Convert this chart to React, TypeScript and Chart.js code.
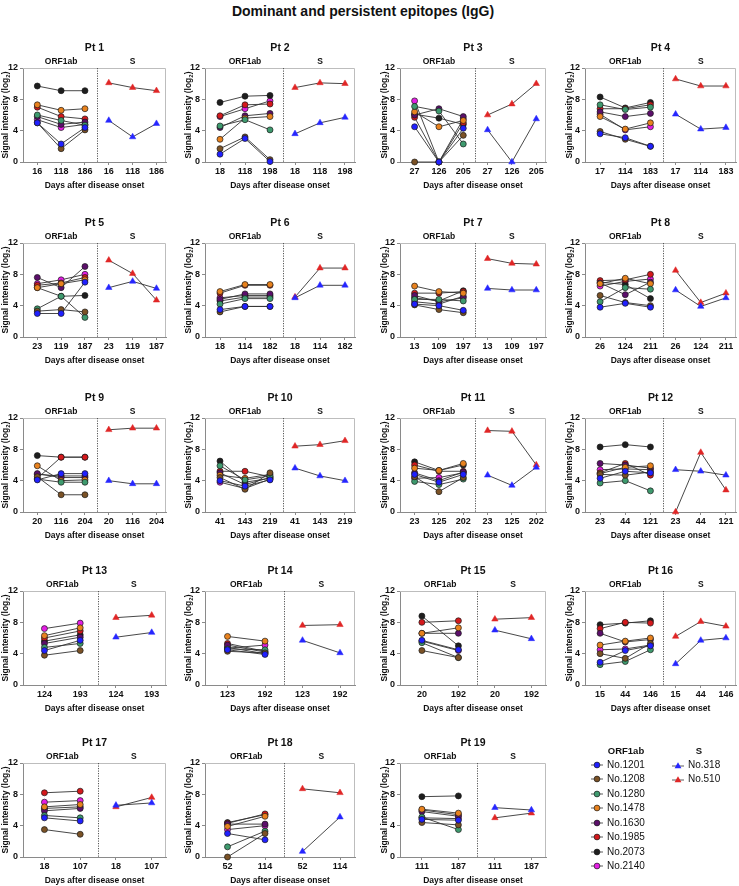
import React, { useEffect, useRef } from 'react';
import { Chart, registerables } from 'chart.js';
Chart.register(...registerables);

const FONT = '"Liberation Sans", Arial, Helvetica, sans-serif';

// Epitopes (order: 1201 blue, 1208 brown, 1280 green, 1478 orange, 1630 purple, 1985 red, 2073 black, 2140 magenta)
const orfNames = ['No.1201', 'No.1208', 'No.1280', 'No.1478', 'No.1630', 'No.1985', 'No.2073', 'No.2140'];
const sNames = ['No.318', 'No.510'];
const orfColors = ['#2020ff', '#7b5226', '#3e9a6e', '#e8821e', '#5c0f6b', '#d4191c', '#1e1e1e', '#e41ee4'];
const sColors = ['#2626ff', '#e02626'];

const titles = ['Pt 1', 'Pt 2', 'Pt 3', 'Pt 4', 'Pt 5', 'Pt 6', 'Pt 7', 'Pt 8', 'Pt 9', 'Pt 10',
  'Pt 11', 'Pt 12', 'Pt 13', 'Pt 14', 'Pt 15', 'Pt 16', 'Pt 17', 'Pt 18', 'Pt 19'];

const pt1Days = [16, 118, 186];
const pt1Orf = [[5.0, 2.3, 4.4], [5.0, 1.7, 4.1], [6.0, 5.3, 4.7], [7.3, 6.6, 6.8], [5.8, 4.8, 5.1], [7.0, 5.8, 5.5], [9.7, 9.1, 9.1], [5.4, 4.4, 4.8]];
const pt1S = [[5.3, 3.2, 4.9], [10.1, 9.5, 9.1]];

const pt2Days = [18, 118, 198];
const pt2Orf = [[1.0, 3.0, 0.05], [1.7, 3.2, 0.3], [4.6, 5.4, 4.1], [2.9, 5.6, 5.8], [4.4, 5.9, 6.2], [5.9, 7.3, 7.4], [7.6, 8.4, 8.5], [5.8, 6.8, 7.8]];
const pt2S = [[3.6, 5.0, 5.7], [9.5, 10.1, 10.0]];

const pt3Days = [27, 126, 205];
const pt3Orf = [[4.5, 0, 4.3], [0, 0, 3.4], [7.1, 6.5, 2.3], [6.4, 4.5, 5.3], [6.0, 6.8, 5.8], [5.7, 0, 5.0], [6.1, 5.6, 4.8], [7.8, 0, 5.5]];
const pt3S = [[4.1, 0, 5.5], [6.0, 7.4, 10.0]];

const pt4Days = [17, 114, 183];
const pt4Orf = [[3.6, 3.1, 2.0], [3.9, 2.9, 2.0], [7.3, 6.7, 7.0], [5.8, 4.2, 5.0], [6.4, 5.8, 6.2], [6.8, 6.8, 7.3], [8.3, 6.9, 7.6], [6.1, 4.1, 4.5]];
const pt4S = [[6.1, 4.2, 4.4], [10.6, 9.7, 9.7]];

const pt5Days = [23, 119, 187];
const pt5Orf = [[3.0, 3.0, 7.0], [3.3, 3.5, 3.2], [3.6, 5.2, 2.5], [6.3, 6.8, 7.3], [7.6, 6.3, 9.0], [6.6, 6.9, 7.6], [6.3, 5.2, 5.3], [6.8, 7.3, 8.0]];
const pt5S = [[6.3, 7.1, 6.2], [9.8, 8.1, 4.7]];

const pt6Days = [18, 114, 182];
const pt6Orf = [[3.5, 3.9, 3.9], [3.2, 3.9, 3.9], [4.2, 4.9, 4.9], [5.8, 6.7, 6.7], [4.8, 5.5, 5.5], [5.6, 6.6, 6.6], [4.6, 5.1, 5.1], [5.0, 5.3, 5.3]];
const pt6S = [[5.0, 6.6, 6.6], [5.1, 8.8, 8.8]];

const pt7Days = [13, 109, 197];
const pt7Orf = [[4.2, 4.0, 3.4], [4.1, 3.5, 3.1], [4.8, 4.8, 4.6], [6.5, 5.8, 5.6], [5.3, 4.5, 5.0], [5.6, 5.6, 5.8], [5.0, 4.6, 5.9], [4.5, 4.2, 5.2]];
const pt7S = [[6.2, 6.0, 6.0], [10.0, 9.4, 9.3]];

const pt8Days = [26, 124, 211];
const pt8Orf = [[3.8, 4.3, 3.8], [5.3, 4.4, 4.0], [4.5, 6.3, 6.1], [6.8, 7.5, 6.8], [6.9, 5.4, 7.0], [7.2, 7.3, 8.0], [7.0, 6.7, 4.9], [6.5, 7.1, 7.4]];
const pt8S = [[6.0, 3.9, 5.0], [8.5, 4.4, 5.6]];

const pt9Days = [20, 116, 204];
const pt9Orf = [[4.1, 4.9, 4.9], [4.5, 2.2, 2.2], [4.2, 3.8, 3.8], [5.9, 4.0, 4.1], [4.9, 4.4, 4.4], [4.3, 7.0, 7.0], [7.2, 7.0, 7.0], [4.8, 4.6, 4.6]];
const pt9S = [[4.0, 3.6, 3.6], [10.5, 10.7, 10.7]];

const pt10Days = [41, 143, 219];
const pt10Orf = [[4.0, 3.3, 4.1], [4.4, 2.9, 5.0], [5.9, 4.1, 4.6], [4.7, 4.3, 4.8], [5.0, 3.5, 4.4], [5.2, 5.2, 4.5], [6.5, 3.8, 4.3], [3.8, 3.0, 4.2]];
const pt10S = [[5.6, 4.6, 4.0], [8.4, 8.6, 9.1]];

const pt11Days = [23, 125, 202];
const pt11Orf = [[4.8, 3.8, 4.8], [4.5, 2.6, 4.4], [3.9, 3.5, 4.2], [5.6, 5.3, 6.2], [5.0, 4.0, 5.1], [6.0, 5.2, 5.2], [6.4, 5.3, 6.0], [4.3, 4.4, 5.0]];
const pt11S = [[4.7, 3.4, 5.7], [10.4, 10.3, 6.0]];

const pt12Days = [23, 44, 121];
const pt12Orf = [[4.3, 5.2, 5.0], [4.8, 4.7, 5.1], [3.7, 4.0, 2.7], [4.9, 5.7, 5.9], [6.2, 6.0, 5.6], [5.0, 6.2, 4.7], [8.3, 8.6, 8.3], [5.4, 5.5, 5.4]];
const pt12S = [[5.4, 5.2, 4.7], [0, 7.6, 2.8]];

const pt13Days = [124, 193];
const pt13Orf = [[4.4, 5.7], [3.8, 4.4], [4.8, 5.3], [6.3, 7.3], [5.3, 6.1], [6.0, 6.9], [5.6, 6.4], [7.2, 7.9]];
const pt13S = [[6.1, 6.7], [8.6, 8.9]];

const pt14Days = [123, 192];
const pt14Orf = [[4.5, 3.9], [4.3, 4.1], [4.6, 4.5], [6.2, 5.6], [5.1, 4.2], [5.3, 4.3], [4.8, 4.0], [4.7, 5.1]];
const pt14S = [[5.7, 4.1], [7.6, 7.7]];

const pt15Days = [20, 192];
const pt15Orf = [[5.7, 4.5], [4.4, 3.5], [5.4, 3.5], [6.6, 7.3], [6.6, 6.6], [8.0, 8.2], [8.8, 5.0], [5.6, 4.4]];
const pt15S = [[7.0, 5.9], [8.4, 8.6]];

const pt16Days = [15, 44, 146];
const pt16Orf = [[2.9, 4.4, 5.0], [4.0, 3.4, 5.3], [2.6, 3.0, 4.5], [5.1, 5.6, 6.0], [6.6, 5.5, 5.8], [7.2, 8.0, 7.9], [7.7, 7.9, 8.2], [4.5, 4.6, 5.1]];
const pt16S = [[2.7, 5.7, 6.0], [6.2, 8.1, 7.5]];

const pt17Days = [18, 107];
const pt17Orf = [[5.0, 4.6], [3.5, 2.9], [5.3, 5.0], [6.4, 6.7], [5.9, 6.2], [8.2, 8.4], [6.2, 6.4], [7.0, 7.2]];
const pt17S = [[6.6, 6.9], [6.4, 7.6]];

const pt18Days = [52, 114];
const pt18Orf = [[3.0, 2.2], [0, 3.0], [1.3, 3.3], [3.9, 5.2], [4.2, 4.2], [4.3, 5.5], [4.4, 5.4], [3.5, 4.0]];
const pt18S = [[0.7, 5.1], [8.7, 8.2]];

const pt19Days = [111, 187];
const pt19Orf = [[4.8, 4.7], [4.4, 4.1], [5.1, 3.5], [6.1, 5.6], [5.8, 5.2], [6.0, 5.4], [7.7, 7.8], [5.0, 4.9]];
const pt19S = [[6.3, 6.0], [5.0, 5.6]];

const allDays = [pt1Days, pt2Days, pt3Days, pt4Days, pt5Days, pt6Days, pt7Days, pt8Days, pt9Days, pt10Days,
  pt11Days, pt12Days, pt13Days, pt14Days, pt15Days, pt16Days, pt17Days, pt18Days, pt19Days];
const allOrf = [pt1Orf, pt2Orf, pt3Orf, pt4Orf, pt5Orf, pt6Orf, pt7Orf, pt8Orf, pt9Orf, pt10Orf,
  pt11Orf, pt12Orf, pt13Orf, pt14Orf, pt15Orf, pt16Orf, pt17Orf, pt18Orf, pt19Orf];
const allS = [pt1S, pt2S, pt3S, pt4S, pt5S, pt6S, pt7S, pt8S, pt9S, pt10S,
  pt11S, pt12S, pt13S, pt14S, pt15S, pt16S, pt17S, pt18S, pt19S];

const yTicks = [0, 4, 8, 12];

// layout
const colLeft = [23, 205, 400, 585];
const colWidth = [143, 150, 146, 151];
const rowTop = [68, 243, 418, 591, 763];
const plotH = 93.5;
const yTitleOff = [17, 16, 15, 15];
const padL = 34, padR = 12, padT = 30, padB = 32;
const yAxisW = 20, xAxisH = 16;

function Panel({ idx }: { idx: number }) {
  const ref = useRef<HTMLCanvasElement>(null);
  const col = idx % 4;
  const row = Math.floor(idx / 4);
  const W = Math.round(colWidth[col] + padL + padR);
  const H = Math.round(plotH + padT + padB);
  useEffect(() => {
    const days = allDays[idx];
    const n = days.length;
    const datasets: any[] = [];
    allOrf[idx].forEach((vals, e) => {
      datasets.push({
        label: orfNames[e],
        data: vals.map((v, i) => ({ x: i, y: v })),
        borderColor: '#333',
        borderWidth: 0.9,
        pointBackgroundColor: orfColors[e],
        pointBorderColor: '#1a1a1a',
        pointBorderWidth: 0.7,
        pointRadius: 3,
        pointStyle: 'circle',
        clip: false,
      });
    });
    allS[idx].forEach((vals, e) => {
      datasets.push({
        label: sNames[e],
        data: vals.map((v, i) => ({ x: n + i, y: v })),
        borderColor: '#333',
        borderWidth: 0.9,
        pointBackgroundColor: sColors[e],
        pointBorderColor: sColors[e],
        pointBorderWidth: 0.5,
        pointRadius: 3.7,
        pointStyle: 'triangle',
        clip: false,
      });
    });
    const decor = {
      id: 'decor',
      beforeDatasetsDraw(chart: any) {
        const { ctx, chartArea: a, scales } = chart;
        ctx.save();
        ctx.strokeStyle = '#bdbdbd';
        ctx.lineWidth = 1;
        ctx.beginPath();
        ctx.moveTo(a.left, Math.round(a.top) + 0.5);
        ctx.lineTo(Math.round(a.right) - 0.5, Math.round(a.top) + 0.5);
        ctx.lineTo(Math.round(a.right) - 0.5, a.bottom);
        ctx.stroke();
        const sx = Math.round(scales.x.getPixelForValue(n - 0.5)) + 0.5;
        ctx.setLineDash([1.2, 1.3]);
        ctx.strokeStyle = '#555';
        ctx.beginPath();
        ctx.moveTo(sx, a.top);
        ctx.lineTo(sx, a.bottom);
        ctx.stroke();
        ctx.restore();
      },
      afterDraw(chart: any) {
        const { ctx, chartArea: a, scales } = chart;
        ctx.save();
        ctx.fillStyle = '#111';
        ctx.textAlign = 'center';
        ctx.textBaseline = 'middle';
        const cx = (a.left + a.right) / 2;
        ctx.font = `bold 10.5px ${FONT}`;
        ctx.fillText(titles[idx], cx, a.top - 20);
        ctx.font = `bold 8.5px ${FONT}`;
        ctx.fillText('ORF1ab', scales.x.getPixelForValue((n - 1) / 2), a.top - 6);
        ctx.fillText('S', scales.x.getPixelForValue(n + (n - 1) / 2), a.top - 6);
        ctx.fillText('Days after disease onset', cx, a.bottom + 24);
        // y title with subscript
        ctx.translate(a.left - yTitleOff[col], (a.top + a.bottom) / 2);
        ctx.rotate(-Math.PI / 2);
        const main = 'Signal intensity (log';
        const mainFont = `bold 8.5px ${FONT}`;
        const subFont = `bold 6px ${FONT}`;
        ctx.font = mainFont;
        const w1 = ctx.measureText(main).width;
        const w3 = ctx.measureText(')').width;
        ctx.font = subFont;
        const w2 = ctx.measureText('2').width;
        let xx = -(w1 + w2 + w3) / 2;
        ctx.textAlign = 'left';
        ctx.font = mainFont;
        ctx.fillText(main, xx, 0);
        xx += w1;
        ctx.font = subFont;
        ctx.fillText('2', xx, 2.5);
        xx += w2;
        ctx.font = mainFont;
        ctx.fillText(')', xx, 0);
        ctx.restore();
      },
    };
    const chart = new Chart(ref.current as HTMLCanvasElement, {
      type: 'line',
      data: { datasets },
      options: {
        animation: false,
        responsive: false,
        maintainAspectRatio: false,
        layout: { padding: { left: padL - yAxisW, right: padR, top: padT, bottom: padB - xAxisH } },
        plugins: { legend: { display: false }, title: { display: false }, tooltip: { enabled: false } },
        scales: {
          x: {
            type: 'linear',
            min: -0.6,
            max: 2 * n - 0.6,
            afterBuildTicks: (axis: any) => {
              axis.ticks = Array.from({ length: 2 * n }, (_, i) => ({ value: i }));
            },
            afterFit: (s: any) => { s.height = xAxisH; },
            ticks: {
              autoSkip: false,
              maxRotation: 0,
              padding: 1,
              color: '#111',
              font: { family: FONT, size: 9, weight: 'bold' },
              callback: (v: any) => String(days[Number(v) % n]),
            },
            grid: { drawOnChartArea: false, drawTicks: true, tickLength: 3, color: '#8a8a8a' },
            border: { color: '#8a8a8a', width: 1 },
          },
          y: {
            min: 0,
            max: 12,
            afterBuildTicks: (axis: any) => {
              axis.ticks = yTicks.map((v) => ({ value: v }));
            },
            afterFit: (s: any) => { s.width = yAxisW; },
            ticks: {
              padding: 2,
              color: '#111',
              font: { family: FONT, size: 9, weight: 'bold' },
            },
            grid: { drawOnChartArea: false, drawTicks: true, tickLength: 3, color: '#8a8a8a' },
            border: { color: '#8a8a8a', width: 1 },
          },
        },
      } as any,
      plugins: [decor],
    });
    return () => chart.destroy();
  }, [idx]);
  return (
    <canvas
      ref={ref}
      width={W}
      height={H}
      style={{ position: 'absolute', left: colLeft[col] - padL, top: rowTop[row] - padT, width: W, height: H }}
    />
  );
}

function Legend() {
  const rowY = (i: number) => 765 + i * 14.45;
  const header = (text: string, x: number) => (
    <div style={{ position: 'absolute', left: x, top: 751, transform: 'translate(-50%,-50%)', font: `bold 9.5px ${FONT}`, whiteSpace: 'nowrap', lineHeight: 1, color: '#111' }}>{text}</div>
  );
  return (
    <>
      {header('ORF1ab', 626)}
      {header('S', 699)}
      {orfNames.map((name, i) => (
        <React.Fragment key={name}>
          <svg width={14} height={8} style={{ position: 'absolute', left: 590, top: rowY(i) - 4 }}>
            <line x1={1} y1={4} x2={13} y2={4} stroke="#333" strokeWidth={0.8} />
            <circle cx={7} cy={4} r={2.9} fill={orfColors[i]} stroke="#1a1a1a" strokeWidth={0.7} />
          </svg>
          <div style={{ position: 'absolute', left: 607, top: rowY(i), transform: 'translateY(-50%)', font: `10px ${FONT}`, lineHeight: 1, whiteSpace: 'nowrap', color: '#111' }}>{name}</div>
        </React.Fragment>
      ))}
      {sNames.map((name, i) => (
        <React.Fragment key={name}>
          <svg width={14} height={9} style={{ position: 'absolute', left: 671, top: rowY(i) - 4.5 }}>
            <line x1={1} y1={5} x2={13} y2={5} stroke="#333" strokeWidth={0.8} />
            <polygon points="7,1.2 10.4,7.2 3.6,7.2" fill={sColors[i]} />
          </svg>
          <div style={{ position: 'absolute', left: 688, top: rowY(i), transform: 'translateY(-50%)', font: `10px ${FONT}`, lineHeight: 1, whiteSpace: 'nowrap', color: '#111' }}>{name}</div>
        </React.Fragment>
      ))}
    </>
  );
}

export default function App() {
  return (
    <div style={{ position: 'absolute', left: 0, top: 0, width: 739, height: 886, overflow: 'hidden', background: '#fff', fontFamily: FONT }}>
      <div style={{ position: 'absolute', left: 363, top: 4, transform: 'translateX(-50%)', font: `bold 14px ${FONT}`, lineHeight: '14px', whiteSpace: 'nowrap', color: '#111' }}>
        Dominant and persistent epitopes (IgG)
      </div>
      {titles.map((t, i) => <Panel key={t} idx={i} />)}
      <Legend />
    </div>
  );
}
